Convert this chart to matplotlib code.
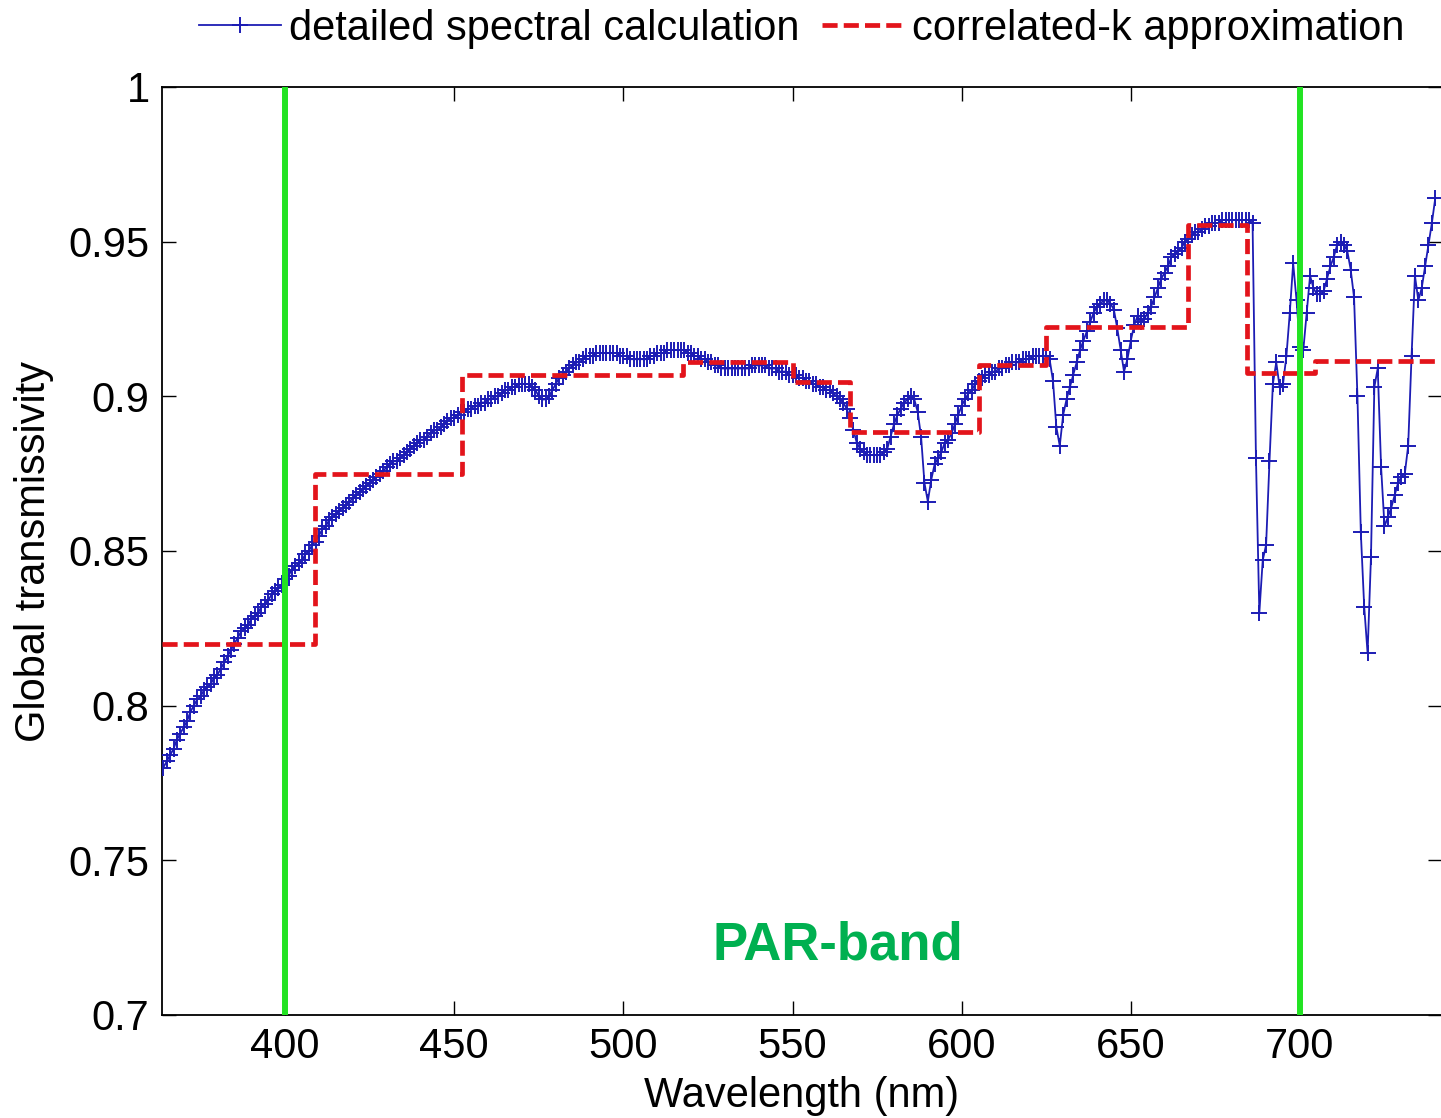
import numpy as np
import matplotlib
matplotlib.use("Agg")
import matplotlib.pyplot as plt

# detailed spectral calculation, 1 nm steps starting at 364 nm
transmissivity = [
    0.780, 0.782, 0.784, 0.786, 0.789, 0.791, 0.793, 0.795, 0.798, 0.800,
    0.802, 0.803, 0.805, 0.806, 0.807, 0.809, 0.810, 0.812, 0.814, 0.816,
    0.818, 0.820, 0.822, 0.824, 0.825, 0.826, 0.828, 0.829, 0.830, 0.832,
    0.833, 0.834, 0.836, 0.837, 0.838, 0.839, 0.841, 0.842, 0.844, 0.845,
    0.846, 0.847, 0.849, 0.850, 0.852, 0.853, 0.855, 0.857, 0.858, 0.860,
    0.861, 0.862, 0.863, 0.864, 0.865, 0.866, 0.867, 0.868, 0.869, 0.870,
    0.871, 0.872, 0.873, 0.874, 0.875, 0.876, 0.877, 0.878, 0.879, 0.879,
    0.880, 0.881, 0.882, 0.883, 0.884, 0.885, 0.886, 0.886, 0.887, 0.888,
    0.889, 0.889, 0.890, 0.891, 0.892, 0.893, 0.893, 0.894, 0.895, 0.895,
    0.896, 0.896, 0.897, 0.897, 0.898, 0.898, 0.899, 0.899, 0.900, 0.900,
    0.901, 0.902, 0.902, 0.903, 0.903, 0.904, 0.904, 0.904, 0.904, 0.903,
    0.902, 0.900, 0.899, 0.899, 0.900, 0.902, 0.904, 0.906, 0.907, 0.908,
    0.909, 0.910, 0.911, 0.911, 0.912, 0.913, 0.913, 0.913, 0.914, 0.914,
    0.914, 0.914, 0.914, 0.914, 0.914, 0.913, 0.913, 0.913, 0.912, 0.912,
    0.912, 0.912, 0.912, 0.912, 0.913, 0.913, 0.914, 0.914, 0.914, 0.915,
    0.915, 0.915, 0.915, 0.915, 0.915, 0.914, 0.914, 0.913, 0.913, 0.912,
    0.912, 0.911, 0.911, 0.910, 0.910, 0.909, 0.909, 0.909, 0.909, 0.909,
    0.909, 0.909, 0.909, 0.909, 0.910, 0.910, 0.910, 0.910, 0.910, 0.909,
    0.909, 0.909, 0.908, 0.908, 0.908, 0.907, 0.907, 0.907, 0.906, 0.906,
    0.905, 0.905, 0.904, 0.904, 0.903, 0.903, 0.902, 0.902, 0.901, 0.900,
    0.899, 0.898, 0.896, 0.893, 0.889, 0.885, 0.883, 0.882, 0.881, 0.881,
    0.881, 0.881, 0.881, 0.882, 0.883, 0.887, 0.891, 0.894, 0.896, 0.898,
    0.899, 0.900, 0.899, 0.895, 0.887, 0.872, 0.866, 0.873, 0.878, 0.880,
    0.882, 0.885, 0.886, 0.888, 0.891, 0.894, 0.897, 0.899, 0.901, 0.902,
    0.904, 0.905, 0.906, 0.907, 0.907, 0.908, 0.908, 0.909, 0.909, 0.910,
    0.910, 0.911, 0.911, 0.911, 0.912, 0.912, 0.912, 0.913, 0.913, 0.913,
    0.913, 0.913, 0.912, 0.905, 0.890, 0.884, 0.894, 0.899, 0.903, 0.907,
    0.911, 0.915, 0.918, 0.921, 0.924, 0.927, 0.929, 0.930, 0.931, 0.931,
    0.930, 0.928, 0.922, 0.915, 0.908, 0.912, 0.918, 0.923, 0.926, 0.924,
    0.925, 0.927, 0.929, 0.932, 0.935, 0.938, 0.940, 0.942, 0.945, 0.946,
    0.947, 0.948, 0.950, 0.951, 0.952, 0.953, 0.953, 0.954, 0.955, 0.955,
    0.956, 0.956, 0.956, 0.957, 0.957, 0.957, 0.957, 0.957, 0.957, 0.957,
    0.957, 0.957, 0.956, 0.880, 0.830, 0.847, 0.852, 0.879, 0.904, 0.911,
    0.903, 0.904, 0.913, 0.927, 0.943, 0.931, 0.916, 0.915, 0.927, 0.939,
    0.935, 0.933, 0.933, 0.934, 0.938, 0.942, 0.945, 0.949, 0.950, 0.949,
    0.947, 0.941, 0.932, 0.900, 0.856, 0.832, 0.817, 0.848, 0.903, 0.909,
    0.877, 0.858, 0.861, 0.864, 0.868, 0.872, 0.874, 0.875, 0.884, 0.913,
    0.939, 0.931, 0.935, 0.942, 0.949, 0.956, 0.964,
]
wavelength = np.arange(364, 364 + len(transmissivity))

# correlated-k band edges and band values
band_edges = [363.6, 408.9, 452.3, 517.5, 550.2, 567.0, 605.0, 625.0, 667.0, 684.4, 704.5, 742.0]
band_values = [0.820, 0.875, 0.907, 0.911, 0.9045, 0.8885, 0.910, 0.9225, 0.9555, 0.9075, 0.9113]

par_limits = [400, 700]
xticks = [400, 450, 500, 550, 600, 650, 700]
yticks = [0.7, 0.75, 0.8, 0.85, 0.9, 0.95, 1.0]
ytick_labels = ['0.7', '0.75', '0.8', '0.85', '0.9', '0.95', '1']

plt.rcParams['font.family'] = ['Liberation Sans', 'DejaVu Sans']

fig = plt.figure(figsize=(14.41, 11.18), dpi=100)
ax = fig.add_axes([162 / 1441, 103 / 1118, 1280 / 1441, 928 / 1118])

blue = '#1c1cb4'
ax.plot(wavelength, transmissivity, color=blue, lw=1.3, marker='+',
        markersize=12, markeredgewidth=1.4, label='detailed spectral calculation',
        zorder=3)

step_y = band_values + [band_values[-1]]
ax.plot(band_edges, step_y, drawstyle='steps-post', color='#e3141b', lw=3.4,
        ls=(0, (3.2, 1.3)), label='correlated-k approximation', zorder=4)

for x in par_limits:
    ax.axvline(x, color='#22e322', lw=4.3, zorder=5)

ax.text(563.5, 0.7226, 'PAR-band', color='#00b050', fontsize=38,
        fontweight='bold', ha='center', va='center', zorder=6)

ax.set_xlim(363.6, 742)
ax.set_ylim(0.7, 1.0)
ax.set_xticks(xticks)
ax.set_yticks(yticks)
ax.set_yticklabels(ytick_labels)
ax.tick_params(direction='in', top=True, right=True, length=10, width=1,
               labelsize=30, pad=9)
for s in ax.spines.values():
    s.set_linewidth(1.3)

ax.set_xlabel('Wavelength (nm)', fontsize=30, labelpad=6)
ax.set_ylabel('Global transmissivity', fontsize=30, labelpad=10)

ax.legend(loc='center', bbox_to_anchor=(0.5, 1.063), ncol=2, frameon=False,
          fontsize=30, handlelength=1.95, handletextpad=0.2, columnspacing=0.55,
          borderaxespad=0)

fig.savefig('out.png', dpi=100)
